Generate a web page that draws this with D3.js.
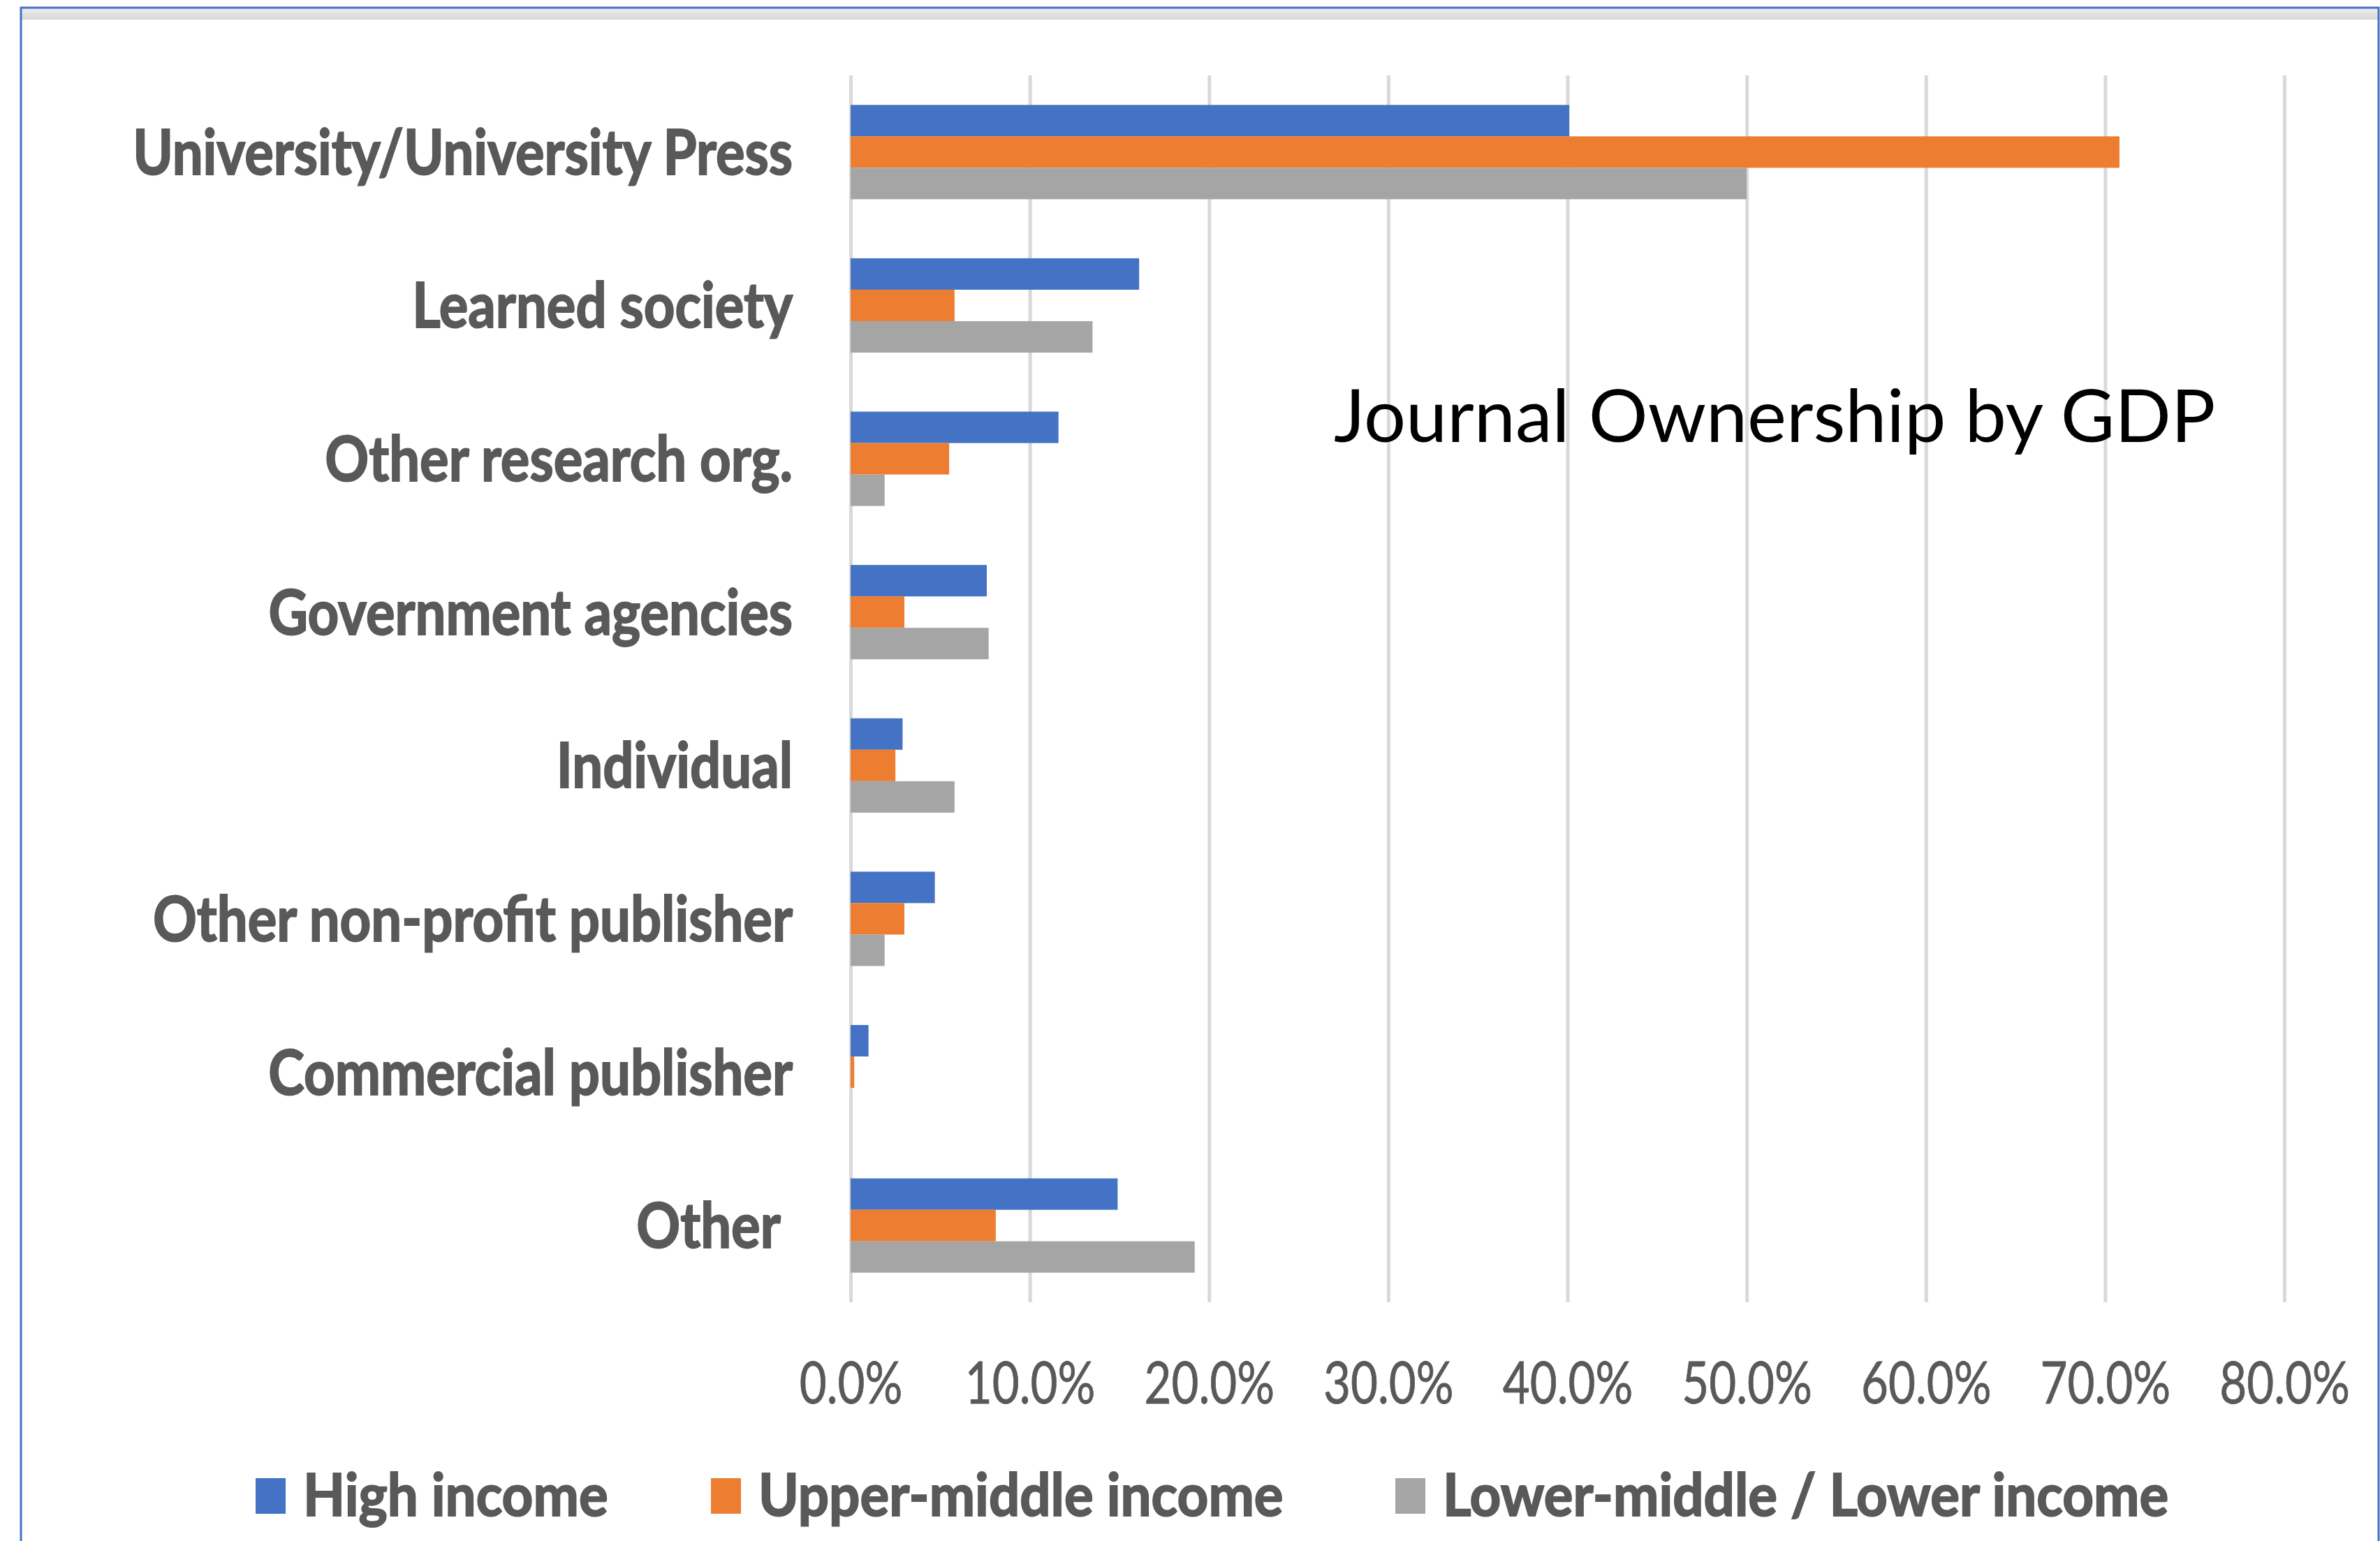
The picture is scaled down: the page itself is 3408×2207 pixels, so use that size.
<!DOCTYPE html>
<html>
<head>
<meta charset="utf-8">
<script src="https://cdn.jsdelivr.net/npm/d3@7"></script>
<style>
  html, body { margin: 0; padding: 0; background: #ffffff; }
  svg { display: block; }
  text { font-family: Lato, "Open Sans", sans-serif; }
</style>
</head>
<body>
<svg id="chart" width="3408" height="2207"></svg>
<script>
// Owner categories, top to bottom
const categories = [
  "University/University Press",
  "Learned society",
  "Other research org.",
  "Government agencies",
  "Individual",
  "Other non-profit publisher",
  "Commercial publisher",
  "Other "
];

// Share of journals (%) per owner type, by country income group
const highIncome        = [40.1, 16.1, 11.6, 7.6, 2.9, 4.7, 1.0, 14.9];
const upperMiddleIncome = [70.8, 5.8, 5.5, 3.0, 2.5, 3.0, 0.2, 8.1];
const lowerIncome       = [50.0, 13.5, 1.9, 7.7, 5.8, 1.9, 0.0, 19.2];

const seriesNames = ["High income", "Upper-middle income", "Lower-middle / Lower income"];
const seriesColors = ["#4472C4", "#ED7D31", "#A5A5A5"];
const tickValues = [0, 10, 20, 30, 40, 50, 60, 70, 80];
const title = "Journal Ownership by GDP";

const series = [highIncome, upperMiddleIncome, lowerIncome];
const rows = categories.map((c, i) => ({
  category: c,
  values: series.map((s, k) => ({ key: seriesNames[k], value: s[i], color: seriesColors[k] }))
}));

const svg = d3.select("#chart");
const textGrey = "#595959";

// Frame around the chart
svg.append("rect").attr("x", 30).attr("y", 28).attr("width", 3376).attr("height", 2200)
  .attr("fill", "#ffffff");
const band = svg.append("defs").append("linearGradient").attr("id", "topband")
  .attr("x1", 0).attr("y1", 0).attr("x2", 0).attr("y2", 1);
band.append("stop").attr("offset", "0%").attr("stop-color", "#eeeeee");
band.append("stop").attr("offset", "100%").attr("stop-color", "#d6d6d6");
svg.append("rect").attr("x", 30).attr("y", 12).attr("width", 3376).attr("height", 16)
  .attr("fill", "url(#topband)");
svg.append("rect").attr("x", 30).attr("y", 11).attr("width", 3376).attr("height", 2220)
  .attr("fill", "none").attr("stroke", "#4472C4").attr("stroke-width", 3);

// Scales
const plotTop = 108, plotBottom = 1865, plotLeft = 1218, plotRight = 3271;
const x = d3.scaleLinear().domain([0, 80]).range([plotLeft, plotRight]);
const y = d3.scaleBand().domain(categories).range([plotTop, plotBottom])
  .paddingInner(0.385).paddingOuter(0.1925);
const ySub = d3.scaleBand().domain(seriesNames).range([0, y.bandwidth()]);

// Vertical gridlines and percentage labels
const xAxis = svg.append("g").attr("transform", `translate(0,${plotBottom})`)
  .call(d3.axisBottom(x).tickValues(tickValues)
    .tickSize(-(plotBottom - plotTop)).tickFormat(d => d.toFixed(1) + "%"));
xAxis.select(".domain").remove();
xAxis.selectAll(".tick line").attr("stroke", "#d9d9d9").attr("stroke-width", 5);
xAxis.selectAll(".tick text")
  .attr("y", 0).attr("dy", 0)
  .attr("transform", "translate(0,145) scale(0.8,1)")
  .attr("fill", textGrey).attr("font-size", 84).attr("font-weight", 400)
  .attr("stroke", textGrey).attr("stroke-width", 0.8)
  .attr("text-anchor", "middle");

// Bars
const groups = svg.append("g").selectAll("g").data(rows).join("g")
  .attr("transform", d => `translate(0,${y(d.category)})`);
groups.selectAll("rect").data(d => d.values).join("rect")
  .attr("x", x(0))
  .attr("y", d => ySub(d.key))
  .attr("width", d => x(d.value) - x(0))
  .attr("height", ySub.bandwidth())
  .attr("fill", d => d.color);

// Category labels
const yAxis = svg.append("g").attr("transform", "translate(1135,0)")
  .call(d3.axisLeft(y).tickSize(0).tickPadding(0));
yAxis.select(".domain").remove();
yAxis.selectAll(".tick text")
  .attr("x", 0).attr("dy", "0.36em")
  .attr("transform", "scale(0.875,1)")
  .attr("fill", textGrey).attr("font-size", 89).attr("font-weight", 700)
  .attr("stroke", textGrey).attr("stroke-width", 2)
  .style("white-space", "pre");

// Title inside the plot area
svg.append("text")
  .attr("transform", "translate(1910,633) scale(1.01,1)")
  .attr("font-size", 105).attr("font-weight", 400).attr("fill", "#000000")
  .text(title);

// Legend
const legendX = [366, 1018, 1998];
const legend = svg.append("g").selectAll("g").data(seriesNames).join("g")
  .attr("transform", (d, i) => `translate(${legendX[i]},0)`);
legend.append("rect").attr("x", 0).attr("y", 2117).attr("width", 43).attr("height", 51)
  .attr("fill", (d, i) => seriesColors[i]);
legend.append("text")
  .attr("transform", "translate(68,2171) scale(0.93,1)")
  .attr("font-size", 84).attr("font-weight", 700).attr("fill", textGrey)
  .attr("stroke", textGrey).attr("stroke-width", 2)
  .text(d => d);
</script>
</body>
</html>
